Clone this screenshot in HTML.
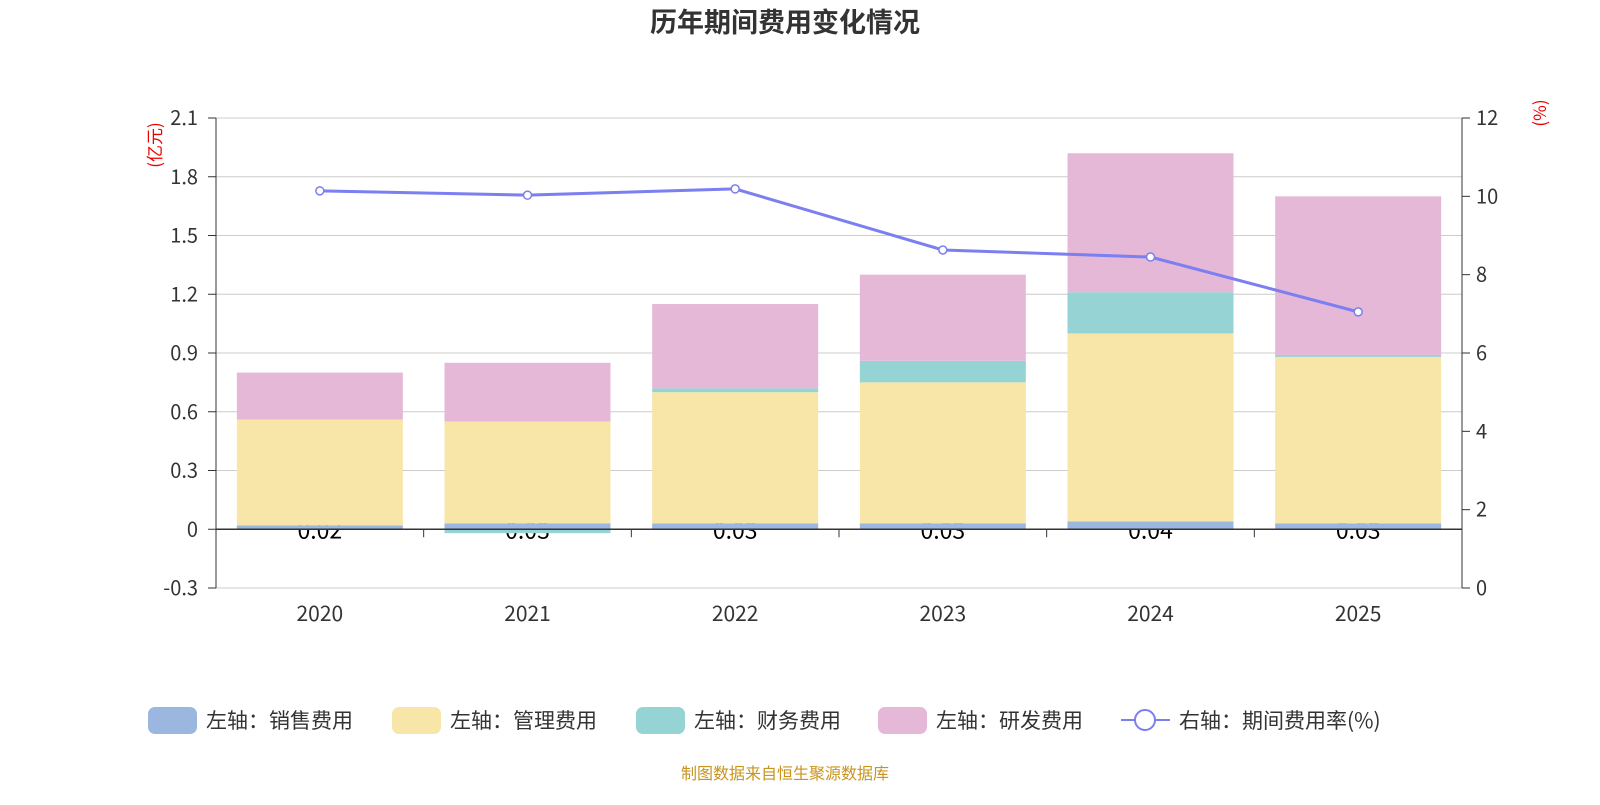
<!DOCTYPE html>
<html><head><meta charset="utf-8">
<style>
html,body{margin:0;padding:0;background:#fff;}
svg text{font-family:"Noto Sans CJK SC","Liberation Sans",sans-serif;}
</style></head>
<body>
<svg id="chart" width="1600" height="800" xmlns="http://www.w3.org/2000/svg">
<text x="785" y="32" text-anchor="middle" font-size="27" font-weight="bold" fill="#333">历年期间费用变化情况</text>
<text transform="translate(161,145) rotate(-90)" text-anchor="middle" font-size="17" fill="#e00">(亿元)</text>
<text transform="translate(1546,113) rotate(-90)" text-anchor="middle" font-size="17" fill="#e00">(%)</text>
<g id="grid"></g>
<g id="labels"></g>
<g id="bars"></g>
<g id="axes"></g>
<g id="line"></g>
<g id="legend"></g>
<text x="785" y="779" text-anchor="middle" font-size="16" fill="#c8941e">制图数据来自恒生聚源数据库</text>
</svg>
<script>
const categories=["2020","2021","2022","2023","2024","2025"];
const sales=[0.02,0.03,0.03,0.03,0.04,0.03];
const mgmt=[0.54,0.52,0.67,0.72,0.96,0.85];
const finance=[0.00,-0.02,0.02,0.11,0.21,0.01];
const rnd=[0.24,0.30,0.43,0.44,0.71,0.81];
const rate=[10.14,10.03,10.19,8.63,8.45,7.05];
const leftTicks=[-0.3,0,0.3,0.6,0.9,1.2,1.5,1.8,2.1];
const rightTicks=[0,2,4,6,8,10,12];
const seriesNames=["左轴：销售费用","左轴：管理费用","左轴：财务费用","左轴：研发费用"];
const colors=["#9bb7e0","#f7e6a8","#96d3d4","#e6b8d8"];
const NS="http://www.w3.org/2000/svg";
const X0=216,X1=1462,YT=118,YB=588;
const yL=v=>YB-(v+0.3)/2.4*(YB-YT);
const yR=v=>YB-v/12*(YB-YT);
const band=(X1-X0)/categories.length;
const xC=i=>X0+band*(i+0.5);
function mk(tag,attrs,parent,text){const e=document.createElementNS(NS,tag);for(const k in attrs)e.setAttribute(k,attrs[k]);if(text!==undefined)e.textContent=text;document.getElementById(parent).appendChild(e);return e;}
leftTicks.forEach(t=>{
 const g=mk("line",{x1:X0,x2:X1,y1:yL(t),y2:yL(t),stroke:"#ccc","stroke-width":1},"grid");
 
 
 const l=mk("text",{x:X0-18,y:yL(t)+7,"text-anchor":"end","font-size":20,fill:"#333"},"axes",t===0?"0":t.toFixed(1));
 
 
 mk("line",{x1:X0-8,x2:X0,y1:yL(t),y2:yL(t),stroke:"#333"},"axes");
});
rightTicks.forEach(t=>{
 const l=mk("text",{x:X1+14,y:yR(t)+7,"font-size":20,fill:"#333"},"axes",String(t));
 
 
 mk("line",{x1:X1,x2:X1+8,y1:yR(t),y2:yR(t),stroke:"#333"},"axes");
});
mk("line",{x1:X0,x2:X0,y1:YT,y2:YB,stroke:"#333"},"axes");
mk("line",{x1:X1,x2:X1,y1:YT,y2:YB,stroke:"#333"},"axes");
mk("line",{x1:X0,x2:X1,y1:yL(0),y2:yL(0),stroke:"#333","stroke-width":1.5},"axes");
for(let i=0;i<=categories.length;i++){mk("line",{x1:X0+band*i,x2:X0+band*i,y1:yL(0),y2:yL(0)+8,stroke:"#333"},"axes");}
const bw=166;
categories.forEach((c,i)=>{
 const cl=mk("text",{x:xC(i),y:621,"text-anchor":"middle","font-size":21,fill:"#333"},"axes",c);
 
 
 const vl=mk("text",{x:xC(i),y:yL(0)+9,"text-anchor":"middle","font-size":23,fill:"#000"},"labels",sales[i].toFixed(2));
 
 
 const vals=[sales[i],mgmt[i],finance[i],rnd[i]];
 let pos=0,neg=0;
 vals.forEach((v,s)=>{
  let y0,y1;
  if(v>=0){y0=pos;pos+=v;y1=pos;}else{y0=neg;neg+=v;y1=neg;}
  const top=Math.min(yL(y0),yL(y1)),h=Math.abs(yL(y1)-yL(y0));
  const r=mk("rect",{x:xC(i)-bw/2,y:top,width:bw,height:h,fill:colors[s]},"bars");
  
  
 });
});
const pts=rate.map((v,i)=>xC(i)+","+yR(v)).join(" ");
const pl=mk("polyline",{points:pts,fill:"none",stroke:"#7b7fef","stroke-width":3},"line");


rate.forEach((v,i)=>{
 const p=mk("circle",{cx:xC(i),cy:yR(v),r:4,fill:"#fff",stroke:"#7b7fef","stroke-width":1.5},"line");
 
 
});
const lx=[148,392,636,878];
seriesNames.forEach((n,s)=>{
 const r=mk("rect",{x:lx[s],y:707,width:49,height:27,rx:7,fill:colors[s]},"legend");
 
 
 const t=mk("text",{x:lx[s]+58,y:728,"font-size":21,fill:"#333"},"legend",n);
 
 
});
mk("line",{x1:1121,x2:1170,y1:720,y2:720,stroke:"#7b7fef","stroke-width":2},"legend");
const lc=mk("circle",{cx:1145,cy:720,r:10,fill:"#fff",stroke:"#7b7fef","stroke-width":2},"legend");


const lt=mk("text",{x:1179,y:728,"font-size":21,fill:"#333"},"legend","右轴：期间费用率(%)");


</script>
</body></html>
